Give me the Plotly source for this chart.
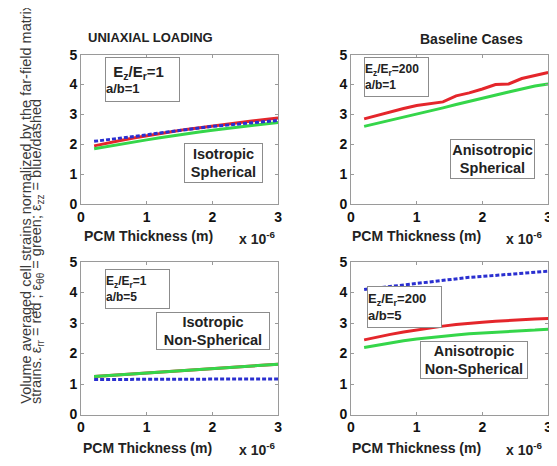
import plotly.graph_objects as go

# The page has an 8px body margin, so the figure is drawn 8px in from the
# window's top-left corner; size it to fill the rest of the 557x466 window.
OFF = 8
W, H = 557 - OFF, 466 - OFF

# ---------------- data (x in units of 1e-6 m) ----------------
x_vals = [0.2, 0.4, 0.6, 0.8, 1.0, 1.2, 1.4, 1.6, 1.8, 2.0, 2.2, 2.4, 2.6, 2.8, 3.0]

tl_red   = [1.95, 2.05, 2.13, 2.21, 2.29, 2.36, 2.43, 2.50, 2.56, 2.62, 2.68, 2.73, 2.78, 2.83, 2.88]
tl_green = [1.85, 1.93, 2.01, 2.08, 2.15, 2.22, 2.29, 2.35, 2.41, 2.47, 2.53, 2.58, 2.63, 2.68, 2.73]
tl_blue  = [2.10, 2.15, 2.20, 2.26, 2.32, 2.38, 2.44, 2.50, 2.55, 2.60, 2.64, 2.68, 2.72, 2.76, 2.80]

tr_red   = [2.85, 2.97, 3.08, 3.20, 3.30, 3.36, 3.42, 3.62, 3.72, 3.85, 4.00, 4.02, 4.20, 4.30, 4.40]
tr_green = [2.60, 2.70, 2.81, 2.92, 3.02, 3.12, 3.22, 3.33, 3.44, 3.55, 3.65, 3.75, 3.85, 3.95, 4.02]

bl_red   = [1.25, 1.28, 1.31, 1.34, 1.37, 1.40, 1.43, 1.46, 1.49, 1.51, 1.54, 1.57, 1.60, 1.62, 1.65]
bl_green = [1.25, 1.28, 1.31, 1.34, 1.37, 1.40, 1.43, 1.46, 1.49, 1.51, 1.54, 1.57, 1.60, 1.62, 1.65]
bl_blue  = [1.15, 1.15, 1.16, 1.16, 1.16, 1.16, 1.16, 1.17, 1.17, 1.17, 1.17, 1.17, 1.17, 1.17, 1.17]

br_red   = [2.45, 2.55, 2.63, 2.71, 2.78, 2.84, 2.90, 2.95, 3.00, 3.03, 3.06, 3.09, 3.11, 3.13, 3.15]
br_green = [2.20, 2.28, 2.35, 2.42, 2.48, 2.53, 2.57, 2.61, 2.65, 2.68, 2.71, 2.73, 2.75, 2.77, 2.80]
br_blue  = [4.10, 4.15, 4.22, 4.27, 4.32, 4.36, 4.42, 4.46, 4.50, 4.53, 4.56, 4.60, 4.62, 4.66, 4.70]

x_ticks = [0, 1, 2, 3]
y_ticks = [0, 1, 2, 3, 4, 5]

RED, GREEN, BLUE = "#e4262b", "#35d64a", "#2a2fd0"
FONT = "Liberation Sans, Arial, sans-serif"

def px(x):
    return (x - OFF) / W

def py(y):
    return 1 - (y - OFF) / H

fig = go.Figure()

panels = [
    ("x", "y", [(tl_red, RED, "solid"), (tl_green, GREEN, "solid"), (tl_blue, BLUE, "4px,2px")]),
    ("x2", "y2", [(tr_red, RED, "solid"), (tr_green, GREEN, "solid")]),
    ("x3", "y3", [(bl_red, RED, "solid"), (bl_green, GREEN, "solid"), (bl_blue, BLUE, "4px,2px")]),
    ("x4", "y4", [(br_red, RED, "solid"), (br_green, GREEN, "solid"), (br_blue, BLUE, "4px,2px")]),
]
for xa, ya, series in panels:
    for vals, col, dash in series:
        fig.add_trace(go.Scatter(x=x_vals, y=vals, xaxis=xa, yaxis=ya, mode="lines",
                                 line=dict(color=col, width=3, dash=dash),
                                 showlegend=False, hoverinfo="skip"))

left_dom = [px(78), px(278)]
right_dom = [px(352), px(552)]
top_dom = [py(203), py(48)]
bot_dom = [py(421), py(263)]

axis_common = dict(showgrid=False, zeroline=False, showline=True, mirror="ticks",
                   linecolor="#9a9a9a", linewidth=1, ticks="inside", ticklen=3,
                   tickcolor="#9a9a9a", ticklabeloverflow="allow",
                   tickfont=dict(family=FONT, size=14, color="#111", weight="bold"))

layout_axes = {}
for i, (xd, yd) in enumerate([(left_dom, top_dom), (right_dom, top_dom),
                              (left_dom, bot_dom), (right_dom, bot_dom)]):
    sfx = "" if i == 0 else str(i + 1)
    layout_axes["xaxis" + sfx] = dict(domain=xd, range=[0, 3], tickvals=x_ticks,
                                      anchor="y" + sfx, **axis_common)
    layout_axes["yaxis" + sfx] = dict(domain=yd, range=[0, 5], tickvals=y_ticks,
                                      anchor="x" + sfx, **axis_common)

fig.update_layout(width=W, height=H, margin=dict(l=0, r=0, t=0, b=0),
                  paper_bgcolor="white", plot_bgcolor="white", **layout_axes)

ann = []

def text(x, y, t, size=14, xanchor="center", yanchor="middle", bold=True, angle=0, color="#222"):
    ann.append(dict(x=px(x), y=py(y), xref="paper", yref="paper", text=t, showarrow=False,
                    xanchor=xanchor, yanchor=yanchor, textangle=angle,
                    font=dict(family=FONT, size=size, color=color,
                              weight="bold" if bold else "normal")))

def box(x0, y0, x1, y1, t, size=14.5, align="center"):
    ann.append(dict(x=px(x0), y=py(y0), xref="paper", yref="paper", text=t, showarrow=False,
                    xanchor="left", yanchor="top", width=x1 - x0 - 2, height=y1 - y0 - 2,
                    align=align, valign="middle", bgcolor="white", bordercolor="#8c8c8c",
                    borderwidth=1, borderpad=0,
                    font=dict(family=FONT, size=size, color="#222", weight="bold")))

# titles
text(149, 30, "UNIAXIAL LOADING", size=13)
text(474, 32, "Baseline Cases", size=14)

# x-axis labels and multipliers
for cx, ly in [(147, 236), (418, 236), (146, 456), (418, 456)]:
    text(cx, ly, "PCM Thickness (m)", size=14)
for rx, ly in [(278, 238), (549, 238), (278, 457), (549, 457)]:
    text(rx, ly, "x 10<sup>-6</sup>", size=14, xanchor="right")

# y-axis label (two rotated lines)
text(22, 412, "Volume averaged cell strains normalized by the far-field matrix",
     size=14.5, yanchor="bottom", bold=False, angle=-90, color="#3a3a3a")
text(34, 412, "strains. ε<sub>rr</sub> = red ; ε<sub>θθ</sub> = green; ε<sub>zz</sub> = blue/dashed",
     size=14.5, yanchor="bottom", bold=False, angle=-90, color="#3a3a3a")

# boxed annotations
box(102, 50, 177, 95,
    "&nbsp;&nbsp;<span style='font-size:15px'>E<sub>z</sub>/E<sub>r</sub>=1</span><br>a/b=1",
    size=13, align="left")
box(183, 140, 262, 180, "Isotropic<br>Spherical")

box(365, 50, 430, 90, "E<sub>z</sub>/E<sub>r</sub>=200<br>a/b=1", size=12, align="left")
box(452, 135, 537, 175, "Anisotropic<br>Spherical")

box(102, 270, 167, 310, "E<sub>z</sub>/E<sub>r</sub>=1<br>a/b=5", size=12, align="left")
box(154, 315, 268, 353, "Isotropic<br>Non-Spherical")

box(368, 288, 443, 330, "E<sub>z</sub>/E<sub>r</sub>=200<br>a/b=5", size=13, align="left")
box(422, 345, 530, 383, "Anisotropic<br>Non-Spherical")

fig.update_layout(annotations=ann)

fig.write_html("out.html")
